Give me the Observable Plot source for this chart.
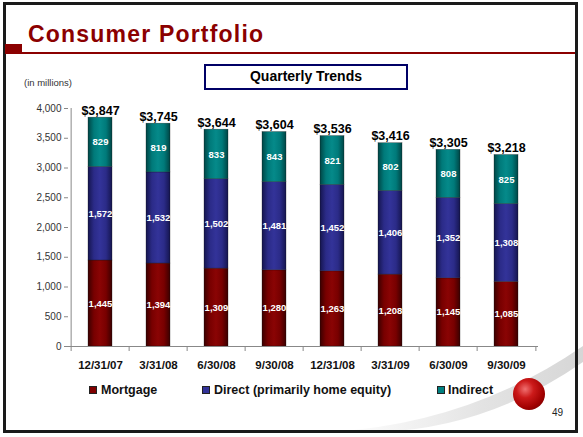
<!DOCTYPE html>
<html><head><meta charset="utf-8">
<script src="https://cdn.jsdelivr.net/npm/d3@7"></script>
<script src="https://cdn.jsdelivr.net/npm/@observablehq/plot@0.6"></script>
<style>
body{margin:0;background:#fff;font-family:Arial,"Liberation Sans",sans-serif;}
#page{position:relative;width:583px;height:437px;overflow:hidden;background:#fff;}
.abs{position:absolute;white-space:nowrap;}
#frame{left:3px;top:2px;width:575px;height:431px;box-sizing:border-box;border:3px solid #1a1a1a;}
#title{left:28px;top:22.5px;font-size:23px;line-height:23px;font-weight:bold;color:#8b0000;letter-spacing:1.2px;}
#rule{left:5px;top:52px;width:570px;height:2px;background:#8b0000;}
#block{left:5px;top:44px;width:17px;height:9px;background:#8b0000;}
#units{left:24px;top:78px;font-size:9.5px;line-height:9.5px;color:#333;}
#qbox{left:204px;top:64px;width:204px;height:26px;box-sizing:border-box;border:2.5px solid #000066;text-align:center;font-size:14px;font-weight:bold;line-height:21px;color:#000;}
#chart{position:absolute;left:0;top:95px;}
.leg{position:absolute;top:384px;font-size:12.5px;line-height:12.5px;font-weight:bold;color:#111;}
.sw{position:absolute;top:386px;width:8px;height:8px;box-sizing:border-box;border:1px solid #222;}
#pnum{left:552px;top:408px;font-size:10px;line-height:10px;color:#222;}
#ball{left:513px;top:378px;width:32px;height:32px;border-radius:50%;background:radial-gradient(circle at 38% 35%, #f07070 0%, #cc1a1a 30%, #a00000 65%, #600000 100%);}
</style></head>
<body>
<div id="page">
  <svg class="abs" style="left:0;top:0" width="583" height="437">
    <defs><linearGradient id="swg" x1="0" x2="1" y1="0" y2="0">
      <stop offset="0" stop-color="#e6e6e6" stop-opacity="0"/>
      <stop offset="0.6" stop-color="#e0e0e0" stop-opacity="0.9"/>
      <stop offset="1" stop-color="#d6d6d6" stop-opacity="1"/></linearGradient></defs>
    <path d="M330 432 Q470 424 583 346 L583 362 Q488 428 380 432 Z" fill="url(#swg)"/>
  </svg>
  <div id="frame" class="abs"></div>
  <div id="title" class="abs">Consumer Portfolio</div>
  <div id="block" class="abs"></div>
  <div id="rule" class="abs"></div>
  <div id="units" class="abs">(in millions)</div>
  <div id="qbox" class="abs">Quarterly Trends</div>
  <div id="chart"></div>
  <div id="legend"></div>
  <div id="ball" class="abs"></div>
  <div id="pnum" class="abs">49</div>
</div>
<script>
const dates = ["12/31/07","3/31/08","6/30/08","9/30/08","12/31/08","3/31/09","6/30/09","9/30/09"];
const mortgage = [1445,1394,1309,1280,1263,1208,1145,1085];
const direct = [1572,1532,1502,1481,1452,1406,1352,1308];
const indirect = [829,819,833,843,821,802,808,825];
const totals = [3847,3745,3644,3604,3536,3416,3305,3218];
const seriesNames = ["Mortgage","Direct (primarily home equity)","Indirect"];
const seriesColors = ["#800000","#333399","#008080"];
const yTicks = [0,500,1000,1500,2000,2500,3000,3500,4000];

const rows = dates.flatMap((d,i)=>[
  {date:d, series:"Mortgage", value:mortgage[i]},
  {date:d, series:"Direct", value:direct[i]},
  {date:d, series:"Indirect", value:indirect[i]}
]);
const totalRows = dates.map((d,i)=>({date:d,total:totals[i]}));
const gradId = {Mortgage:"url(#gM)", Direct:"url(#gD)", Indirect:"url(#gI)"};
const fmt = d3.format(",d");

const W=583,H=290,mL=68,mR=45,mT=13,mB=39;
const step=(W-mL-mR)/dates.length;

const chart = Plot.plot({
  width:W, height:H, marginLeft:mL, marginRight:mR, marginTop:mT, marginBottom:mB,
  style:{fontFamily:'Arial,"Liberation Sans",sans-serif', background:"transparent", overflow:"visible"},
  x:{domain:dates, paddingInner:0.59, paddingOuter:0.295, label:null},
  y:{domain:[0,4000], label:null},
  color:{type:"identity"},
  marks:[
    Plot.barY(rows, Plot.stackY({x:"date", y:"value", z:"series", fill:d=>gradId[d.series], stroke:"#111", strokeWidth:0.5, strokeOpacity:0.6})),
    Plot.text(rows, Plot.stackY({x:"date", y:"value", z:"series", text:d=>fmt(d.value), fill:"white", fontWeight:"bold", fontSize:9.5})),
    Plot.text(totalRows, {x:"date", y:"total", text:d=>"$"+fmt(d.total), lineAnchor:"bottom", dy:-3, fontWeight:"bold", fontSize:12.5, fill:"#000"}),
    Plot.ruleY([0], {stroke:"#888"}),
    Plot.ruleX(dates, {x:d=>d, dx:-step/2, y1:0, y2:0, insetBottom:-5, stroke:"#888"}),
    Plot.ruleX([dates[dates.length-1]], {x:d=>d, dx:step/2, y1:0, y2:0, insetBottom:-5, stroke:"#888"}),
    Plot.ruleX([dates[0]], {x:d=>d, dx:-step/2, y1:0, y2:4000, stroke:"#888"}),
    Plot.axisY({ticks:yTicks, tickFormat:fmt, tickSize:4, tickPadding:3, fontSize:10, fill:"#333", stroke:"#888"}),
    Plot.axisX({tickSize:0, tickPadding:14, fontSize:11.5, fontWeight:"bold", fill:"#111"})
  ]
});
chart.insertAdjacentHTML("afterbegin", `<defs>
<linearGradient id="gM" x1="0" x2="1" y1="0" y2="0"><stop offset="0" stop-color="#3a0000"/><stop offset="0.25" stop-color="#780000"/><stop offset="0.5" stop-color="#8a0404"/><stop offset="0.75" stop-color="#780000"/><stop offset="1" stop-color="#3a0000"/></linearGradient>
<linearGradient id="gD" x1="0" x2="1" y1="0" y2="0"><stop offset="0" stop-color="#15154f"/><stop offset="0.25" stop-color="#2b2b88"/><stop offset="0.5" stop-color="#333399"/><stop offset="0.75" stop-color="#2b2b88"/><stop offset="1" stop-color="#15154f"/></linearGradient>
<linearGradient id="gI" x1="0" x2="1" y1="0" y2="0"><stop offset="0" stop-color="#004545"/><stop offset="0.25" stop-color="#007a7a"/><stop offset="0.5" stop-color="#058a8a"/><stop offset="0.75" stop-color="#007a7a"/><stop offset="1" stop-color="#004545"/></linearGradient>
</defs>`);
document.getElementById("chart").appendChild(chart);

const legX = [[89,101],[202,214],[437,448]];
const leg = document.getElementById("legend");
seriesNames.forEach((n,i)=>{
  const s=document.createElement("div"); s.className="sw"; s.style.left=legX[i][0]+"px"; s.style.background=seriesColors[i]; leg.appendChild(s);
  const t=document.createElement("div"); t.className="leg"; t.style.left=legX[i][1]+"px"; t.textContent=n; leg.appendChild(t);
});
</script>
</body></html>
